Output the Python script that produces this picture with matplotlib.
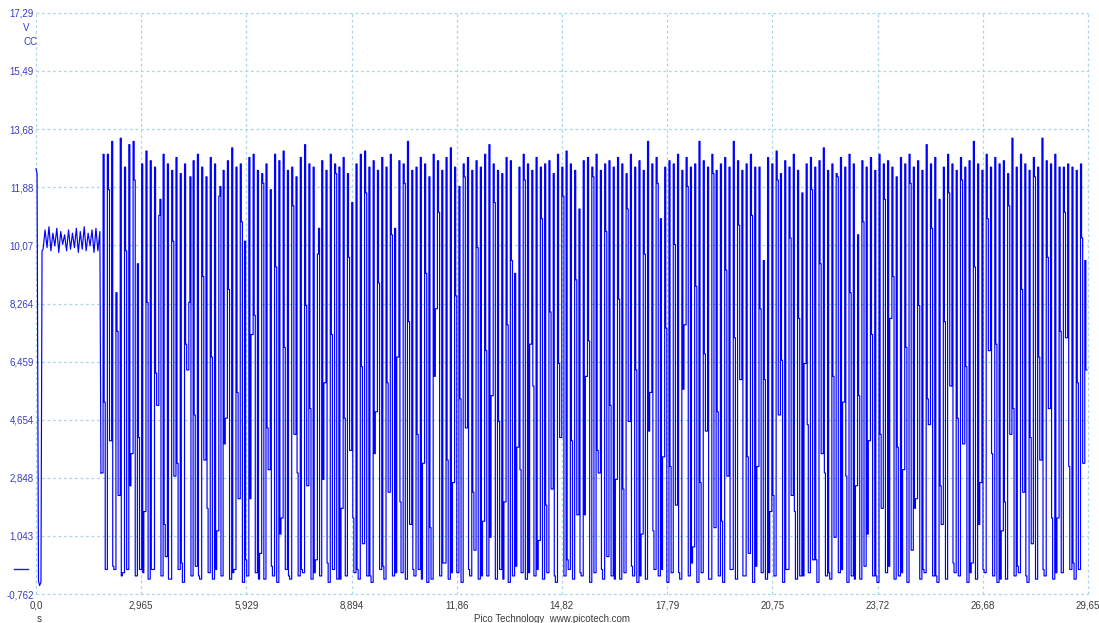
import numpy as np
import matplotlib
matplotlib.use("Agg")
import matplotlib.pyplot as plt
from matplotlib.transforms import blended_transform_factory

# ---- data -------------------------------------------------------------
y_ticks = [-0.762, 1.043, 2.848, 4.654, 6.459, 8.264, 10.07, 11.88, 13.68, 15.49, 17.29]
y_tick_labels = ["-0,762", "1,043", "2,848", "4,654", "6,459", "8,264",
                 "10,07", "11,88", "13,68", "15,49", "17,29"]
x_ticks = [0.0, 2.965, 5.929, 8.894, 11.86, 14.82, 17.79, 20.75, 23.72, 26.68, 29.65]
x_tick_labels = ["0,0", "2,965", "5,929", "8,894", "11,86", "14,82",
                 "17,79", "20,75", "23,72", "26,68", "29,65"]

# power-up: short spike, drop to ground, then rise to the idle level
start_t = [0.0, 0.03, 0.07, 0.10, 0.14, 0.17]
start_v = [12.45, 12.3, -0.35, -0.5, -0.4, 9.9]

# idle ripple around 10 V
idle_t0, idle_t1 = 0.20, 1.80
idle_v = [9.95, 10.55, 10.0, 10.65, 9.9, 10.45, 10.05, 10.6, 9.85, 10.5,
          10.1, 10.4, 9.9, 10.55, 9.95, 10.45, 10.0, 10.6, 9.85, 10.5,
          9.95, 10.65, 9.9, 10.45, 10.05, 10.55, 9.85, 10.6, 9.9, 10.5]

# switching phase: per-cycle low sample, high sample and falling-edge sample
run_t0, run_t1 = 1.83, 29.62
trough_v = [
    3.0, 0.0, 4.0, 0.0, 2.3, -0.1, 0.0, 3.6, -0.2, 0.0,
    1.8, -0.3, 0.0, 5.1, -0.2, 0.4, -0.3, 2.9, 0.0, -0.4,
    6.2, -0.2, 0.1, -0.3, 3.4, -0.1, -0.3, 1.2, -0.2, 4.7,
    -0.3, 0.0, 2.2, -0.4, -0.2, 7.3, -0.1, 0.5, -0.3, 3.1,
    -0.2, -0.4, 1.6, 0.0, -0.3, 4.2, -0.2, -0.1, 2.6, -0.3,
    0.3, -0.2, 5.8, -0.4, 0.0, -0.3, 1.9, -0.2, 3.7, -0.1,
    -0.3, 0.8, -0.2, -0.4, 4.9, 0.0, -0.3, 2.4, -0.2, 6.6,
    -0.1, -0.3, 1.4, -0.2, 0.0, 3.3, -0.4, -0.3, 8.1, -0.2,
    0.2, -0.3, 2.7, -0.1, -0.4, 4.4, -0.2, 0.6, -0.3, 1.5,
    -0.2, 5.4, -0.3, 0.0, 2.1, -0.4, -0.2, 3.8, -0.1, -0.3,
    7.0, -0.2, 0.9, -0.3, -0.1, 2.5, -0.4, 4.1, -0.2, 0.0,
    -0.3, 1.7, -0.2, 6.0, -0.4, -0.1, 3.0, -0.3, 0.4, -0.2,
    2.8, -0.3, -0.1, 4.6, -0.2, -0.4, 1.1, -0.3, 5.5, 0.0,
    -0.2, 3.5, -0.4, -0.1, 2.0, -0.3, 7.6, -0.2, 0.7, -0.4,
    -0.1, 4.3, -0.3, 1.3, -0.2, -0.4, 2.9, 0.0, -0.3, 5.9,
    -0.2, 0.5, -0.4, 3.2, -0.1, -0.3, 1.8, -0.2, 4.8, -0.4,
    0.0, 2.3, -0.3, -0.2, 6.4, -0.1, 0.3, -0.4, 3.6, -0.2,
    -0.3, 1.0, -0.1, 5.2, -0.4, -0.2, 2.6, -0.3, 0.1, 4.0,
    -0.2, -0.4, 1.9, -0.1, 7.8, -0.3, -0.2, 3.1, -0.4, 0.6,
    2.2, -0.3, -0.1, 4.5, -0.2, -0.4, 1.4, -0.3, 5.7, -0.1,
    -0.2, 3.9, -0.4, 0.2, -0.3, 2.7, -0.1, 6.8, -0.2, -0.4,
    1.2, -0.3, 4.2, -0.2, -0.1, 2.4, -0.4, 0.8, -0.3, 3.4,
    -0.2, 5.0, -0.3, 1.6, -0.1, 7.2, 0.0, -0.3, 0.0, 3.3,
]
peak_v = [
    12.9, 12.9, 13.3, 8.6, 13.4, 12.5, 13.2, 13.3, 9.5, 12.6,
    13.0, 12.7, 12.5, 11.0, 12.9, 12.6, 12.4, 12.8, 12.3, 12.6,
    8.3, 12.7, 12.9, 12.5, 12.2, 12.8, 12.6, 11.6, 12.4, 12.7,
    13.1, 12.5, 12.6, 10.2, 12.8, 12.9, 12.4, 12.3, 12.6, 11.8,
    12.9, 12.7, 13.0, 12.4, 12.5, 12.2, 12.8, 13.2, 12.6, 12.5,
    9.8, 12.7, 12.4, 12.9, 12.6, 12.5, 12.8, 12.3, 11.4, 12.6,
    12.9, 13.0, 12.5, 12.7, 12.4, 12.8, 12.5, 12.9, 10.6, 12.7,
    12.6, 13.3, 12.4, 12.5, 12.8, 12.6, 12.2, 12.9, 12.7, 12.4,
    12.8, 13.1, 12.5, 11.9, 12.6, 12.8, 12.4, 12.7, 12.5, 12.9,
    13.2, 12.6, 12.4, 12.3, 12.8, 12.7, 9.2, 12.5, 12.9, 12.6,
    12.4, 12.8, 12.5, 12.6, 12.7, 12.3, 12.9, 12.5, 13.0, 12.6,
    12.4, 11.2, 12.7, 12.8, 12.5, 12.9, 12.4, 12.6, 12.7, 12.5,
    12.8, 12.6, 12.3, 12.9, 12.5, 12.7, 12.4, 13.3, 12.6, 12.8,
    10.9, 12.5, 12.7, 12.6, 12.9, 12.4, 12.8, 12.5, 12.6, 13.3,
    12.7, 12.5, 12.9, 12.4, 12.6, 12.8, 12.5, 13.3, 12.7, 12.4,
    12.6, 12.9, 12.5, 12.5, 9.6, 12.8, 12.6, 13.0, 12.3, 12.7,
    12.5, 12.9, 12.4, 11.7, 12.6, 12.8, 12.5, 12.7, 13.1, 12.4,
    12.6, 12.3, 12.8, 12.5, 12.9, 12.6, 10.4, 12.7, 12.5, 12.8,
    12.4, 12.9, 12.6, 12.7, 12.5, 12.2, 12.8, 12.6, 12.9, 12.5,
    12.7, 12.4, 13.2, 12.6, 12.8, 11.5, 12.5, 12.9, 12.6, 12.4,
    12.8, 12.5, 12.7, 13.3, 12.6, 12.4, 12.9, 12.5, 12.8, 12.6,
    12.7, 12.3, 13.4, 12.5, 12.9, 12.6, 12.4, 12.8, 12.5, 13.4,
    12.7, 12.6, 12.9, 12.5, 12.5, 12.6, 12.5, 12.4, 12.6, 9.6,
]
fall_v = [
    5.2, 11.8, 0.1, 7.4, -0.2, 9.9, 2.6, 12.1, 4.1, -0.1,
    8.3, 0.0, 6.1, 11.5, 1.4, -0.3, 10.2, 3.3, 0.2, 7.0,
    12.2, 4.8, -0.2, 9.1, 1.9, 6.6, 0.0, 11.9, 3.9, 8.7,
    -0.1, 5.5, 10.8, 0.3, 2.2, 7.9, -0.3, 12.0, 4.4, 0.1,
    9.4, 1.1, 6.9, -0.2, 11.3, 3.0, 0.0, 8.2, 5.0, -0.1,
    10.6, 2.8, 0.2, 7.3, 12.3, -0.3, 4.7, 9.7, 1.6, 0.0,
    6.3, 11.7, -0.2, 3.6, 8.9, 0.1, 5.8, 10.4, -0.1, 2.1,
    12.0, 7.7, 0.0, 4.2, -0.3, 9.2, 1.3, 6.0, 11.1, 0.2,
    3.4, -0.1, 8.5, 5.3, 12.2, 0.0, 2.4, 10.0, -0.2, 6.8,
    1.0, 11.4, 4.6, -0.3, 7.6, 9.6, 0.1, 3.1, 12.1, -0.1,
    5.7, 0.0, 10.9, 2.0, 8.0, -0.2, 6.4, 11.6, 0.3, 4.0,
    9.0, -0.1, 1.7, 7.1, 12.2, 3.7, 0.0, 10.5, 5.1, -0.3,
    8.4, 2.5, 11.2, 0.1, 6.2, -0.2, 9.8, 4.3, 1.2, 12.0,
    0.0, 7.5, 3.2, 10.1, -0.1, 5.6, 11.9, 0.2, 8.8, 2.7,
    6.7, -0.3, 12.3, 4.9, 1.5, 9.3, 0.0, 7.2, 10.7, -0.2,
    3.5, 11.0, 0.1, 8.1, 5.9, -0.1, 2.3, 12.1, 6.5, 0.0,
    10.3, 1.8, 7.8, -0.2, 4.5, 11.8, 0.3, 9.5, 3.0, -0.1,
    6.0, 12.2, 0.0, 2.9, 8.6, -0.3, 5.4, 10.8, 1.1, 7.3,
    -0.2, 4.2, 11.5, 0.1, 9.1, 3.8, -0.1, 6.9, 12.0, 1.9,
    8.2, 0.0, 5.3, 10.6, -0.2, 2.6, 7.7, 11.7, 0.2, 4.7,
    12.1, 6.3, -0.1, 9.4, 1.4, 0.0, 10.9, 3.6, 7.0, -0.3,
    2.1, 11.3, 5.0, 0.1, 8.7, -0.2, 4.1, 12.2, 6.6, 0.0,
    9.7, 1.6, -0.1, 7.4, 11.1, 3.2, 0.2, 5.8, 10.3, 6.2,
]

# ---- build the trace ---------------------------------------------------
idle_t = np.linspace(idle_t0, idle_t1, len(idle_v))
t_slow = np.concatenate([start_t, idle_t])
v_slow = np.concatenate([start_v, idle_v])

# each switching cycle: low level for half the period, short high pulse,
# then the falling-edge sample until the next cycle begins
n_cyc = len(peak_v)
period = (run_t1 - run_t0) / n_cyc
cyc_t = run_t0 + period * np.arange(n_cyc)
phase = np.array([0.0, 0.5, 0.75])
run_t = (cyc_t[:, None] + period * phase[None, :]).ravel()
run_v = np.column_stack([trough_v, peak_v, fall_v]).ravel()
run_t = np.append(run_t, run_t1)
run_v = np.append(run_v, fall_v[-1])

# ---- figure ------------------------------------------------------------
W, H = 1099, 623
fig = plt.figure(figsize=(W / 100, H / 100), dpi=100)
left, right, top, bottom = 36, 1088, 13, 594
ax = fig.add_axes([left / W, 1 - bottom / H, (right - left) / W, (bottom - top) / H])
ax.set_xlim(x_ticks[0], x_ticks[-1])
ax.set_ylim(y_ticks[0], y_ticks[-1])

grid_col = "#a9d7e6"
for yv in y_ticks:
    ax.axhline(yv, color=grid_col, lw=0.9, ls=(0, (2.2, 2.2)), clip_on=False, zorder=1)
for xv in x_ticks:
    ax.axvline(xv, color=grid_col, lw=0.9, ls=(0, (2.2, 2.2)), clip_on=False, zorder=1)

trace = dict(color="#0000ff", lw=0.85, zorder=3, clip_on=False)
ax.plot(np.append(t_slow, run_t[0]), np.append(v_slow, run_v[0]), **trace)
ax.plot(run_t, run_v, drawstyle="steps-post", **trace)

for s in ax.spines.values():
    s.set_visible(False)
ax.set_xticks(x_ticks)
ax.set_xticklabels(x_tick_labels)
ax.set_yticks(y_ticks)
ax.set_yticklabels(y_tick_labels)
ax.tick_params(axis="both", length=0, labelsize=7, labelfontfamily="Liberation Sans")
ax.tick_params(axis="y", pad=1.5, labelcolor="#3a3ac8")
ax.tick_params(axis="x", pad=5, labelcolor="#3c3c3c")

# zero-level marker on the left of the axis
trans = blended_transform_factory(ax.transAxes, ax.transData)
ax.plot([-22 / (right - left), -8 / (right - left)], [0, 0], color="#2020d0",
        lw=1.0, transform=trans, clip_on=False)

fig.text(23 / W, 1 - 28 / H, "V", color="#3a3ac8", fontsize=7,
         family="Liberation Sans", ha="left", va="center")
fig.text(23 / W, 1 - 42 / H, "CC", color="#3a3ac8", fontsize=7,
         family="Liberation Sans", ha="left", va="center")
fig.text(39 / W, 1 - 619 / H, "s", color="#3c3c3c", fontsize=7,
         family="Liberation Sans", ha="center", va="center")
fig.text(552 / W, 1 - 619 / H, "Pico Technology  www.picotech.com", color="#3c3c3c",
         fontsize=7, family="Liberation Sans", ha="center", va="center")

fig.savefig("out.png", dpi=100, facecolor="white")
